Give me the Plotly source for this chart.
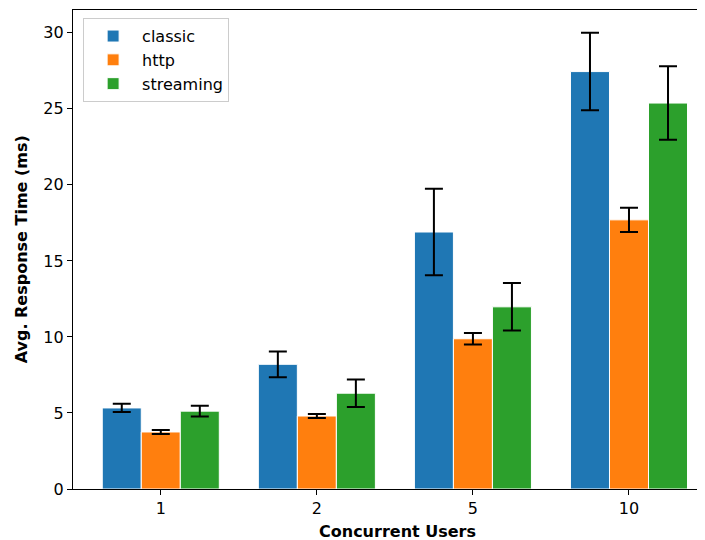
import plotly.graph_objects as go

categories = ["1", "2", "5", "10"]
series_names = ["classic", "http", "streaming"]
classic_vals = [5.33, 8.2, 16.9, 27.45]
classic_err = [0.27, 0.85, 2.85, 2.55]
http_vals = [3.75, 4.8, 9.88, 17.7]
http_err = [0.13, 0.13, 0.38, 0.8]
streaming_vals = [5.12, 6.3, 11.98, 25.38]
streaming_err = [0.36, 0.9, 1.56, 2.42]
colors = ["#1f77b4", "#ff7f0e", "#2ca02c"]

xpos = list(range(len(categories)))
font_family = "DejaVu Sans, Verdana, sans-serif"

fig = go.Figure()
for name, vals, errs, col in zip(series_names,
                                 [classic_vals, http_vals, streaming_vals],
                                 [classic_err, http_err, streaming_err],
                                 colors):
    fig.add_trace(go.Bar(
        x=xpos, y=vals, name=name,
        marker=dict(color=col, line=dict(color="white", width=1)),
        error_y=dict(type="data", array=errs, visible=True,
                     color="black", thickness=2, width=9),
    ))

# page body has an 8px default margin, so the figure is offset by 8px
fig.update_layout(
    width=697, height=532,
    margin=dict(l=65, r=0, t=2, b=51),
    barmode="group", bargap=0.25, bargroupgap=0,
    plot_bgcolor="white", paper_bgcolor="white",
    font=dict(family=font_family, size=16, color="black"),
    showlegend=True,
    legend=dict(x=0.016, y=0.983, xanchor="left", yanchor="top",
                bgcolor="white", bordercolor="#cccccc", borderwidth=1,
                font=dict(size=16), itemwidth=48, tracegroupgap=2),
    xaxis=dict(
        range=[-0.5625, 3.487], tickmode="array", tickvals=xpos, ticktext=categories,
        showgrid=False, zeroline=False, showline=True, linecolor="black", linewidth=1.2,
        mirror=True, ticks="outside", ticklen=5, tickcolor="black", automargin=False,
    ),
    yaxis=dict(
        range=[0, 31.5], tickmode="array", tickvals=[0, 5, 10, 15, 20, 25, 30],
        showgrid=False, zeroline=False, showline=True, linecolor="black", linewidth=1.2,
        ticks="outside", ticklen=5, tickcolor="black", automargin=False,
    ),
    annotations=[
        dict(text="<b>Concurrent Users</b>", xref="paper", yref="paper",
             x=0.513, y=-0.088, xanchor="center", yanchor="middle",
             showarrow=False, font=dict(size=16)),
        dict(text="<b>Avg. Response Time (ms)</b>", xref="paper", yref="paper",
             x=-0.081, y=0.5, xanchor="center", yanchor="middle", textangle=-90,
             showarrow=False, font=dict(size=16)),
    ],
)

fig.write_html("out.html")
